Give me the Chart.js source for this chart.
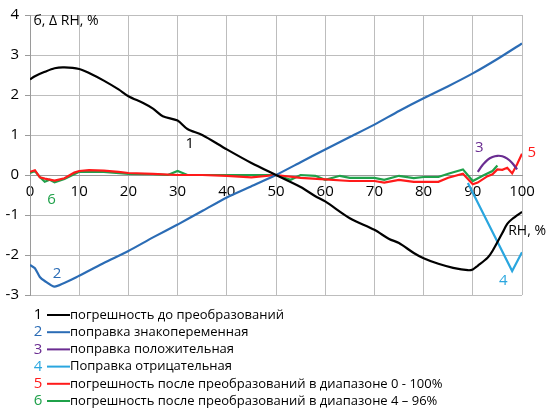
<!DOCTYPE html>
<html>
<head>
<meta charset="utf-8">
<script src="https://cdn.jsdelivr.net/npm/chart.js@4/dist/chart.umd.min.js"></script>
<style>
	body { margin: 0; background: #fff; }
</style>
</head>
<body>
<canvas id="chart" width="550" height="413"></canvas>
<script>
// 1 - error before conversion
const rh1 = [0, 1, 3, 5, 7, 10, 12, 15, 18, 20, 23, 25, 27, 30, 32, 35, 40, 45, 50, 55, 58, 60, 65, 70, 73, 75, 78, 80, 83, 86, 89, 90, 91, 93, 94, 96, 97, 98, 100];
const err1 = [2.39, 2.47, 2.58, 2.67, 2.69, 2.65, 2.55, 2.36, 2.14, 1.97, 1.80, 1.66, 1.47, 1.36, 1.15, 1.0, 0.64, 0.3, 0, -0.3, -0.53, -0.66, -1.08, -1.37, -1.6, -1.7, -1.95, -2.08, -2.22, -2.32, -2.38, -2.36, -2.27, -2.07, -1.9, -1.45, -1.22, -1.1, -0.92];
// 2 - alternating correction
const rh2 = [0, 1, 2, 3, 5, 10, 15, 20, 25, 30, 35, 40, 45, 50, 55, 60, 65, 70, 75, 80, 85, 90, 95, 100];
const err2 = [-2.25, -2.33, -2.55, -2.65, -2.79, -2.52, -2.2, -1.9, -1.56, -1.24, -0.9, -0.56, -0.28, 0, 0.32, 0.64, 0.95, 1.26, 1.6, 1.92, 2.22, 2.54, 2.9, 3.29];
// 3 - positive correction
const rh3 = [91, 92, 93, 94, 95, 96, 97, 98, 99];
const err3 = [0.08, 0.25, 0.38, 0.45, 0.48, 0.47, 0.41, 0.3, 0.14];
// 4 - negative correction
const rh4 = [89, 98, 100];
const err4 = [-0.2, -2.4, -1.93];
// 5 - after conversion 0-100%
const rh5 = [0, 1, 2, 3, 5, 7, 9, 10, 12, 15, 18, 20, 25, 30, 35, 40, 45, 50, 55, 60, 65, 70, 72, 75, 78, 80, 83, 85, 88, 90, 91, 93, 94, 95, 96, 97, 98, 99, 100];
const err5 = [0.08, 0.12, -0.06, -0.09, -0.14, -0.08, 0.06, 0.1, 0.12, 0.11, 0.08, 0.05, 0.03, 0, 0, -0.02, -0.06, 0, -0.07, -0.11, -0.15, -0.15, -0.19, -0.12, -0.17, -0.17, -0.17, -0.07, 0.03, -0.23, -0.19, -0.03, 0.02, 0.14, 0.13, 0.18, 0.04, 0.27, 0.53];
// 6 - after conversion 4-96%
const rh6 = [0, 1, 2, 3, 4, 5, 7, 10, 15, 20, 25, 28, 30, 32, 40, 45, 50, 53, 55, 58, 60, 63, 65, 70, 72, 75, 78, 80, 83, 85, 88, 90, 92, 94, 95];
const err6 = [0.05, 0.1, -0.05, -0.17, -0.12, -0.18, -0.1, 0.08, 0.08, 0.03, 0.02, 0, 0.1, 0, 0, 0, 0, -0.12, 0, -0.02, -0.12, -0.02, -0.07, -0.07, -0.12, -0.02, -0.08, -0.05, -0.05, 0.03, 0.14, -0.15, -0.02, 0.1, 0.24];

const colors = ['#000000', '#2b6cb5', '#6a2c91', '#2aa6df', '#ff1a1a', '#1fa14a'];
const legendNums = ['1', '2', '3', '4', '5', '6'];
const legendLabels = [
	'погрешность до преобразований',
	'поправка знакопеременная',
	'поправка положительная',
	'Поправка отрицательная',
	'погрешность после преобразований в диапазоне 0 - 100%',
	'погрешность после преобразований в диапазоне 4 – 96%'
];
// number labels next to the curves: [rh, value]
const curveLabels = [[32.5, 0.77], [5.5, -2.46], [91.3, 0.68], [96.2, -2.64], [102, 0.56], [4.4, -0.63]];

function toPoints(xs, ys) {
	return xs.map((x, i) => ({ x: x, y: ys[i] }));
}

const series = [[rh1, err1, 0.3], [rh2, err2, 0.2], [rh3, err3, 0.4], [rh4, err4, 0], [rh5, err5, 0], [rh6, err6, 0]];
const datasets = series.map((s, i) => ({
	label: legendLabels[i],
	data: toPoints(s[0], s[1]),
	borderColor: colors[i],
	borderWidth: 2.2,
	pointRadius: 0,
	tension: s[2],
	fill: false,
}));

const fontFam = '"Open Sans", sans-serif';
Chart.defaults.font.family = fontFam;

const textPlugin = {
	id: 'texts',
	afterDraw(chart) {
		const ctx = chart.ctx;
		const xs = chart.scales.x, ys = chart.scales.y;
		ctx.save();
		ctx.textBaseline = 'middle';
		ctx.textAlign = 'center';
		ctx.font = '15px ' + fontFam;
		curveLabels.forEach((p, i) => {
			ctx.fillStyle = colors[i];
			ctx.fillText(legendNums[i], xs.getPixelForValue(p[0]), ys.getPixelForValue(p[1]));
		});
		ctx.fillStyle = '#000';
		ctx.textAlign = 'left';
		ctx.font = '14px ' + fontFam;
		ctx.fillText('б, Δ RH, %', xs.getPixelForValue(0.7), ys.getPixelForValue(3.84));
		ctx.fillText('RH, %', xs.getPixelForValue(97.2), ys.getPixelForValue(-1.39));

		// legend
		legendLabels.forEach((t, i) => {
			const y = 315 + i * 17.2;
			ctx.font = '15px ' + fontFam;
			ctx.textAlign = 'center';
			ctx.fillStyle = colors[i];
			ctx.fillText(legendNums[i], 38, y);
			ctx.strokeStyle = colors[i];
			ctx.lineWidth = 2;
			ctx.beginPath();
			ctx.moveTo(47, y);
			ctx.lineTo(70, y);
			ctx.stroke();
			ctx.font = '13px ' + fontFam;
			ctx.textAlign = 'left';
			ctx.fillStyle = '#000';
			ctx.fillText(t, 70, y);
		});
		ctx.restore();
	}
};

new Chart(document.getElementById('chart'), {
	type: 'line',
	data: { datasets: datasets },
	options: {
		responsive: false,
		animation: false,
		layout: { padding: { left: 0, right: 28, top: 13, bottom: 118 } },
		plugins: { legend: { display: false }, tooltip: { enabled: false } },
		scales: {
			x: {
				type: 'linear',
				position: { y: 0 },
				min: 0,
				max: 100,
				ticks: { stepSize: 10, padding: 8, color: '#000', font: { size: 15 } },
				grid: { color: '#bdbdbd', drawTicks: false },
				border: { color: '#9a9a9a' },
			},
			y: {
				type: 'linear',
				min: -3,
				max: 4,
				ticks: {
					stepSize: 0.5,
					padding: 6,
					color: '#000',
					font: { size: 15 },
					callback: (v) => Number.isInteger(v) ? v : '',
				},
				grid: {
					color: (c) => (c.tick && Number.isInteger(c.tick.value)) ? '#bdbdbd' : 'rgba(0,0,0,0)',
					tickColor: '#9a9a9a',
					tickLength: 5,
				},
				border: { color: '#9a9a9a' },
				afterFit: (s) => { s.width = 30; },
			},
		},
	},
	plugins: [textPlugin],
});
</script>
</body>
</html>
